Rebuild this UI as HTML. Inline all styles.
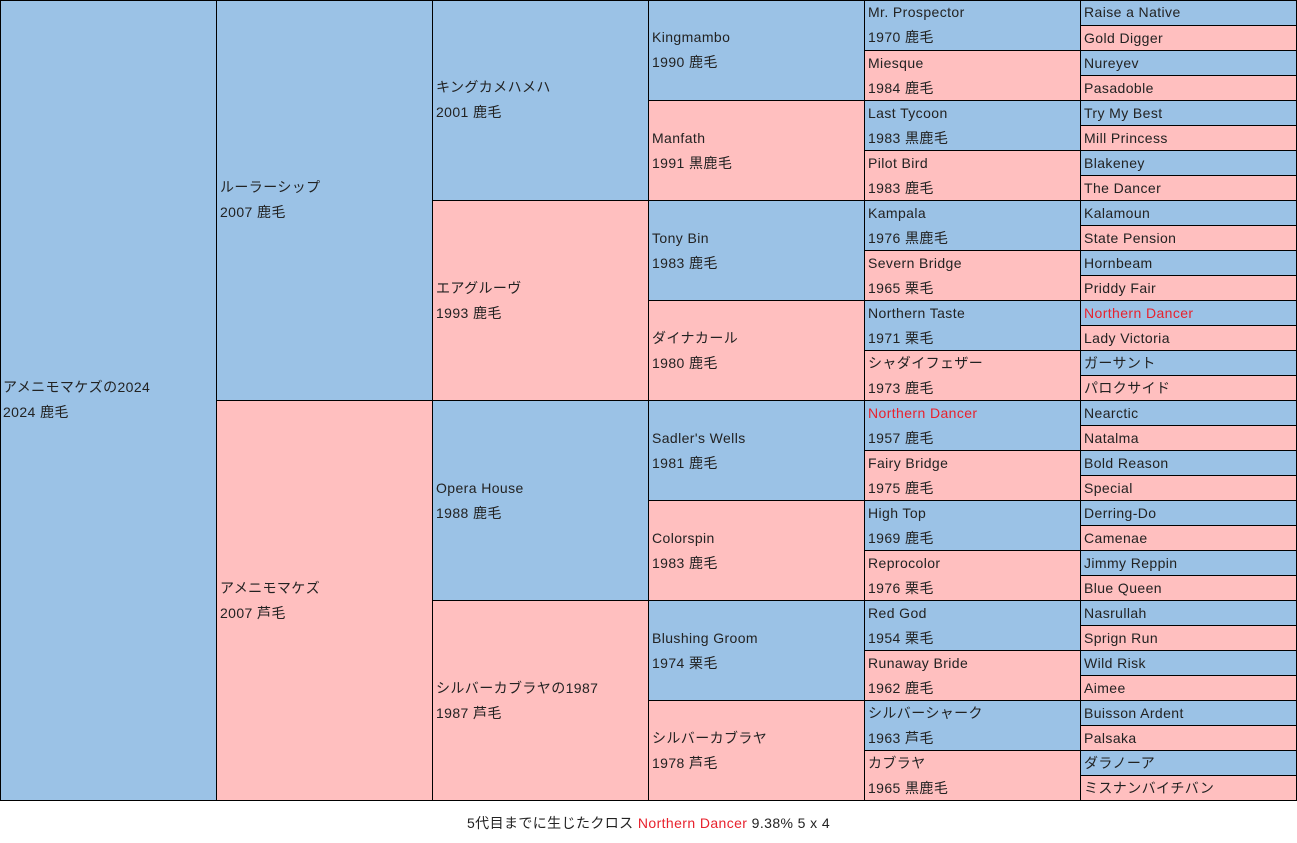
<!DOCTYPE html>
<html><head><meta charset="utf-8"><style>
body{margin:0;width:1297px;height:843px;background:#fff;font-family:"Liberation Sans","Noto Sans CJK JP",sans-serif;font-size:14px;letter-spacing:0.4px;color:#222;position:relative;overflow:hidden}
.c{position:absolute;box-sizing:border-box;border-right:1px solid #000;border-bottom:1px solid #000;padding-left:3px;display:flex;flex-direction:column;justify-content:center;line-height:25px;white-space:nowrap;overflow:hidden}
.b{background:#9bc2e6}.p{background:#ffbfbf}
.r{color:#e8222d}
#wrap{position:absolute;left:0;top:0;width:1297px;height:801px;border-left:1px solid #000;border-top:1px solid #000;box-sizing:border-box;z-index:5;background:transparent}
.foot{position:absolute;top:812px;left:0;width:1297px;text-align:center;line-height:22px}
</style></head><body>
<!-- gen1 -->
<div class="c b" style="left:0;top:0;width:217px;height:801px"><div>アメニモマケズの2024</div><div>2024 鹿毛</div></div>
<!-- gen2 -->
<div class="c b" style="left:217px;top:0;width:216px;height:401px"><div>ルーラーシップ</div><div>2007 鹿毛</div></div>
<div class="c p" style="left:217px;top:401px;width:216px;height:400px"><div>アメニモマケズ</div><div>2007 芦毛</div></div>
<!-- gen3 -->
<div class="c b" style="left:433px;top:0;width:216px;height:201px"><div>キングカメハメハ</div><div>2001 鹿毛</div></div>
<div class="c p" style="left:433px;top:201px;width:216px;height:200px"><div>エアグルーヴ</div><div>1993 鹿毛</div></div>
<div class="c b" style="left:433px;top:401px;width:216px;height:200px"><div>Opera House</div><div>1988 鹿毛</div></div>
<div class="c p" style="left:433px;top:601px;width:216px;height:200px"><div>シルバーカブラヤの1987</div><div>1987 芦毛</div></div>
<!-- gen4 -->
<div class="c b" style="left:649px;top:0;width:216px;height:101px"><div>Kingmambo</div><div>1990 鹿毛</div></div>
<div class="c p" style="left:649px;top:101px;width:216px;height:100px"><div>Manfath</div><div>1991 黒鹿毛</div></div>
<div class="c b" style="left:649px;top:201px;width:216px;height:100px"><div>Tony Bin</div><div>1983 鹿毛</div></div>
<div class="c p" style="left:649px;top:301px;width:216px;height:100px"><div>ダイナカール</div><div>1980 鹿毛</div></div>
<div class="c b" style="left:649px;top:401px;width:216px;height:100px"><div>Sadler's Wells</div><div>1981 鹿毛</div></div>
<div class="c p" style="left:649px;top:501px;width:216px;height:100px"><div>Colorspin</div><div>1983 鹿毛</div></div>
<div class="c b" style="left:649px;top:601px;width:216px;height:100px"><div>Blushing Groom</div><div>1974 栗毛</div></div>
<div class="c p" style="left:649px;top:701px;width:216px;height:100px"><div>シルバーカブラヤ</div><div>1978 芦毛</div></div>
<!-- gen5 -->
<div class="c b" style="left:865px;top:0;width:216px;height:51px"><div>Mr. Prospector</div><div>1970 鹿毛</div></div>
<div class="c p" style="left:865px;top:51px;width:216px;height:50px"><div>Miesque</div><div>1984 鹿毛</div></div>
<div class="c b" style="left:865px;top:101px;width:216px;height:50px"><div>Last Tycoon</div><div>1983 黒鹿毛</div></div>
<div class="c p" style="left:865px;top:151px;width:216px;height:50px"><div>Pilot Bird</div><div>1983 鹿毛</div></div>
<div class="c b" style="left:865px;top:201px;width:216px;height:50px"><div>Kampala</div><div>1976 黒鹿毛</div></div>
<div class="c p" style="left:865px;top:251px;width:216px;height:50px"><div>Severn Bridge</div><div>1965 栗毛</div></div>
<div class="c b" style="left:865px;top:301px;width:216px;height:50px"><div>Northern Taste</div><div>1971 栗毛</div></div>
<div class="c p" style="left:865px;top:351px;width:216px;height:50px"><div>シャダイフェザー</div><div>1973 鹿毛</div></div>
<div class="c b" style="left:865px;top:401px;width:216px;height:50px"><div class="r">Northern Dancer</div><div>1957 鹿毛</div></div>
<div class="c p" style="left:865px;top:451px;width:216px;height:50px"><div>Fairy Bridge</div><div>1975 鹿毛</div></div>
<div class="c b" style="left:865px;top:501px;width:216px;height:50px"><div>High Top</div><div>1969 鹿毛</div></div>
<div class="c p" style="left:865px;top:551px;width:216px;height:50px"><div>Reprocolor</div><div>1976 栗毛</div></div>
<div class="c b" style="left:865px;top:601px;width:216px;height:50px"><div>Red God</div><div>1954 栗毛</div></div>
<div class="c p" style="left:865px;top:651px;width:216px;height:50px"><div>Runaway Bride</div><div>1962 鹿毛</div></div>
<div class="c b" style="left:865px;top:701px;width:216px;height:50px"><div>シルバーシャーク</div><div>1963 芦毛</div></div>
<div class="c p" style="left:865px;top:751px;width:216px;height:50px"><div>カブラヤ</div><div>1965 黒鹿毛</div></div>
<!-- gen6 -->
<div class="c b" style="left:1081px;top:0;width:216px;height:26px">Raise a Native</div>
<div class="c p" style="left:1081px;top:26px;width:216px;height:25px">Gold Digger</div>
<div class="c b" style="left:1081px;top:51px;width:216px;height:25px">Nureyev</div>
<div class="c p" style="left:1081px;top:76px;width:216px;height:25px">Pasadoble</div>
<div class="c b" style="left:1081px;top:101px;width:216px;height:25px">Try My Best</div>
<div class="c p" style="left:1081px;top:126px;width:216px;height:25px">Mill Princess</div>
<div class="c b" style="left:1081px;top:151px;width:216px;height:25px">Blakeney</div>
<div class="c p" style="left:1081px;top:176px;width:216px;height:25px">The Dancer</div>
<div class="c b" style="left:1081px;top:201px;width:216px;height:25px">Kalamoun</div>
<div class="c p" style="left:1081px;top:226px;width:216px;height:25px">State Pension</div>
<div class="c b" style="left:1081px;top:251px;width:216px;height:25px">Hornbeam</div>
<div class="c p" style="left:1081px;top:276px;width:216px;height:25px">Priddy Fair</div>
<div class="c b" style="left:1081px;top:301px;width:216px;height:25px"><span class="r">Northern Dancer</span></div>
<div class="c p" style="left:1081px;top:326px;width:216px;height:25px">Lady Victoria</div>
<div class="c b" style="left:1081px;top:351px;width:216px;height:25px">ガーサント</div>
<div class="c p" style="left:1081px;top:376px;width:216px;height:25px">パロクサイド</div>
<div class="c b" style="left:1081px;top:401px;width:216px;height:25px">Nearctic</div>
<div class="c p" style="left:1081px;top:426px;width:216px;height:25px">Natalma</div>
<div class="c b" style="left:1081px;top:451px;width:216px;height:25px">Bold Reason</div>
<div class="c p" style="left:1081px;top:476px;width:216px;height:25px">Special</div>
<div class="c b" style="left:1081px;top:501px;width:216px;height:25px">Derring-Do</div>
<div class="c p" style="left:1081px;top:526px;width:216px;height:25px">Camenae</div>
<div class="c b" style="left:1081px;top:551px;width:216px;height:25px">Jimmy Reppin</div>
<div class="c p" style="left:1081px;top:576px;width:216px;height:25px">Blue Queen</div>
<div class="c b" style="left:1081px;top:601px;width:216px;height:25px">Nasrullah</div>
<div class="c p" style="left:1081px;top:626px;width:216px;height:25px">Sprign Run</div>
<div class="c b" style="left:1081px;top:651px;width:216px;height:25px">Wild Risk</div>
<div class="c p" style="left:1081px;top:676px;width:216px;height:25px">Aimee</div>
<div class="c b" style="left:1081px;top:701px;width:216px;height:25px">Buisson Ardent</div>
<div class="c p" style="left:1081px;top:726px;width:216px;height:25px">Palsaka</div>
<div class="c b" style="left:1081px;top:751px;width:216px;height:25px">ダラノーア</div>
<div class="c p" style="left:1081px;top:776px;width:216px;height:25px">ミスナンバイチバン</div>
<div id="wrap"></div>
<div class="foot">5代目までに生じたクロス <span class="r">Northern Dancer</span> 9.38% 5 x 4</div>
</body></html>
